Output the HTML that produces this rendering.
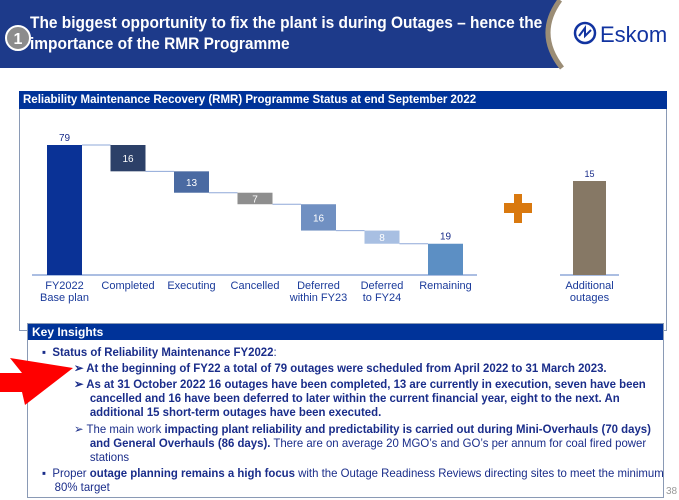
<!DOCTYPE html>
<html><head><meta charset="utf-8"><style>
body{margin:0;width:679px;height:500px;overflow:hidden;background:#fff;font-family:"Liberation Sans",sans-serif;position:relative}
.abs{position:absolute}
.ki{position:absolute;left:27px;top:323px;width:637px;height:175px;border:1px solid #8a9ab5;box-sizing:border-box;background:#fff}
.ki p{margin:0;position:absolute;font-size:12px;line-height:14px;color:#1a2d8a;white-space:nowrap;transform:scaleX(0.95);transform-origin:0 0}
b{font-weight:bold}
</style></head><body>
<div class="abs" style="left:0;top:0;width:600px;height:68px;background:#1d3a8a"></div>
<svg class="abs" style="left:0;top:0" width="679" height="70">
<path d="M560,0 Q535,34 562,68 L679,68 L679,0 Z" fill="#fff"/>
<path d="M560,0 Q535,34 562,68" stroke="#9b8d76" stroke-width="5" fill="none"/>
<circle cx="18" cy="38" r="12" fill="#8c8c8c" stroke="#fff" stroke-width="2"/>
<text x="18" y="44" font-size="16" font-weight="bold" fill="#fff" text-anchor="middle" font-family="Liberation Sans">1</text>
<circle cx="585" cy="33" r="10" fill="none" stroke="#1133a0" stroke-width="2.5"/>
<path d="M579,36 L585,28 L585,36 L591,30" stroke="#1133a0" stroke-width="2" fill="none"/>
<text x="600" y="42" font-size="22" fill="#1133a0" font-family="Liberation Sans">Eskom</text>
</svg>
<div class="abs" style="left:30px;top:12px;color:#fff;font-weight:bold;font-size:17px;line-height:21px;white-space:nowrap;transform:scaleX(0.91);transform-origin:0 0">The biggest opportunity to fix the plant is during Outages – hence the<br>importance of the RMR Programme</div>
<div class="abs" style="left:19px;top:91px;width:648px;height:240px;border:1px solid #8a9ab5;box-sizing:border-box"></div>
<div class="abs" style="left:19px;top:91px;width:648px;height:18px;background:#003399;color:#fff;font-weight:bold;font-size:11.5px;line-height:18px;padding-left:4px;box-sizing:border-box">Reliability Maintenance Recovery (RMR) Programme Status at end September 2022</div>
<svg id="chart" class="abs" style="left:0;top:110px" width="679" height="210"></svg>
<div class="ki">
<div style="height:16px;background:#003399;color:#fff;font-weight:bold;font-size:12px;line-height:16px;padding-left:4px">Key Insights</div>
<p style="left:14px;top:21px">▪&nbsp; <b>Status of Reliability Maintenance FY2022</b>:</p>
<p style="left:46px;top:37px"><b>➢ At the beginning of FY22 a total of 79 outages were scheduled from April 2022 to 31 March 2023.</b></p>
<p style="left:46px;top:53px"><b>➢ As at 31 October 2022 16 outages have been completed, 13 are currently in execution, seven have been<br>&nbsp;&nbsp;&nbsp;&nbsp;&nbsp;cancelled and 16 have been deferred to later within the current financial year, eight to the next. An<br>&nbsp;&nbsp;&nbsp;&nbsp;&nbsp;additional 15 short-term outages have been executed.</b></p>
<p style="left:46px;top:98px">➢ The main work <b>impacting plant reliability and predictability is carried out during Mini-Overhauls (70 days)<br>&nbsp;&nbsp;&nbsp;&nbsp;&nbsp;and General Overhauls (86 days).</b> There are on average 20 MGO’s and GO’s per annum for coal fired power<br>&nbsp;&nbsp;&nbsp;&nbsp;&nbsp;stations</p>
<p style="left:14px;top:142px">▪&nbsp; Proper <b>outage planning remains a high focus</b> with the Outage Readiness Reviews directing sites to meet the minimum<br>&nbsp;&nbsp;&nbsp;&nbsp;80% target</p>
</div>
<div class="abs" style="left:666px;top:486px;font-size:10px;color:#999">38</div>
<svg class="abs" style="left:0;top:0" width="679" height="500"><polygon points="0,373 22,373 10,358 73,368 25,405 22,392 0,392" fill="#ff0000"/></svg>
<script>
const categories=["FY2022\nBase plan","Completed","Executing","Cancelled","Deferred\nwithin FY23","Deferred\nto FY24","Remaining"];
const values=[79,16,13,7,16,8,19];
const kinds=["total","down","down","down","down","down","total"];
const colors=["#0a3296","#2c4068","#4a6aa2","#8e8e8e","#7090c2","#a8bfe2","#5c8fc4"];
const extraCategory=["Additional\noutages"];
const extraValues=[15];
const svg=document.getElementById('chart');
const NS="http://www.w3.org/2000/svg";
const base=165, x0=47, step=63.5, bw=35;
const y=v=>base-v*130/79;
const yx=v=>base-v*94/15;
function mk(t,a){const e=document.createElementNS(NS,t);for(const k in a)e.setAttribute(k,a[k]);svg.appendChild(e);return e;}
function txt(x,yy,s,fill,size,name){const lines=s.split("\n");lines.forEach((l,i)=>{const t=mk('text',{x:x,y:yy+i*12,'text-anchor':'middle','font-size':size,fill:fill,'font-family':'Liberation Sans'});t.textContent=l;

});}
const ax=mk('line',{x1:32,x2:477,y1:base,y2:base,stroke:'#8fa8d8','stroke-width':1.5});


let run=0;
values.forEach((v,i)=>{
 const x=x0+i*step;let top,bot;
 if(kinds[i]==="total"){top=y(v);bot=base;run=v;}else{top=y(run);bot=y(run-v);run-=v;}
 const r=mk('rect',{x:x,y:top,width:bw,height:bot-top,fill:colors[i]});
 
 
 if(i<values.length-1){const ny=kinds[i]==="total"?top:bot;const c=mk('line',{x1:x+bw,x2:x+step,y1:ny,y2:ny,stroke:'#8fa8d8','stroke-width':1});
 
 }
 if(kinds[i]==="total")txt(x+bw/2,top-4,String(v),'#1a2d8a',10,'value-label');
 else txt(x+bw/2,(top+bot)/2+4,String(v),'#fff',10,'value-label');
 txt(x+bw/2,179,categories[i],'#1a3a9a',11,'category-label');
});
const ax2=mk('line',{x1:560,x2:619,y1:base,y2:base,stroke:'#8fa8d8','stroke-width':1.5});


extraValues.forEach((v,i)=>{
 const r=mk('rect',{x:573,y:yx(v),width:33,height:base-yx(v),fill:'#867865'});
 
 
 txt(589.5,yx(v)-4,String(v),'#1a2d8a',9,'value-label');
 txt(589.5,179,extraCategory[i],'#1a3a9a',11,'category-label');
});
const p1=mk('rect',{x:514,y:84,width:8,height:29,fill:'#d9790f'});


const p2=mk('rect',{x:504,y:93,width:28,height:10,fill:'#d9790f'});


</script>
</body></html>
